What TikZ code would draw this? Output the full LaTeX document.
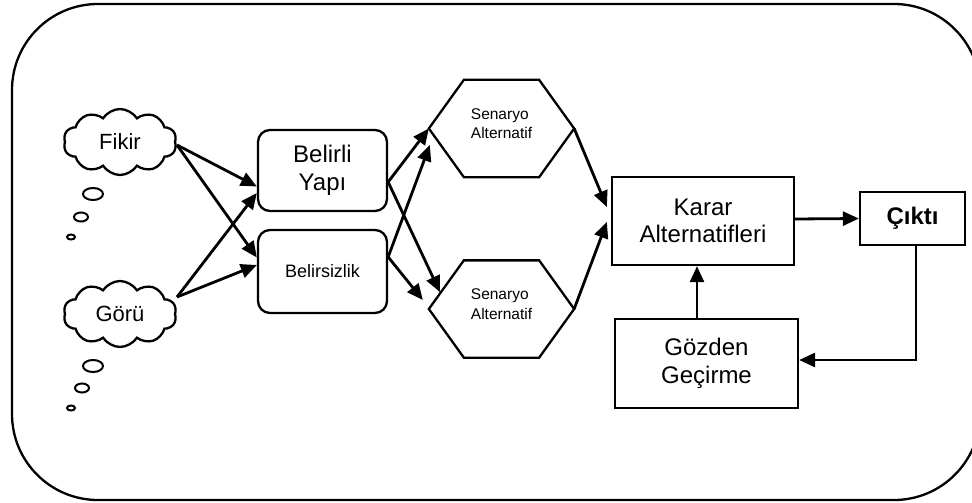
\documentclass[tikz,border=0pt]{standalone}
\usepackage{fontspec}
\setmainfont{Liberation Sans}
\usetikzlibrary{shapes.symbols,arrows.meta,calc}
\newcommand\hexout[1]{\draw (#1.west) -- ($(#1.north west)+(35,0)$) -- ($(#1.north east)+(-35,0)$) -- (#1.east) -- ($(#1.south east)+(-35,0)$) -- ($(#1.south west)+(35,0)$) -- cycle;}
\begin{document}
\begin{tikzpicture}[x=1pt,y=-1pt,
  line width=2.3pt,
  big/.style={font=\fontsize{24}{27.5}\selectfont, align=center},
  box/.style={draw, rectangle, big, inner sep=0},
  rbox/.style={box, rounded corners=12pt},
  hexnode/.style={rectangle, inner sep=0, minimum width=143pt, minimum height=95pt,
     label={[font=\fontsize{15.5}{19.5}\selectfont, align=left, yshift=5pt]center:Senaryo\\Alternatif}},
  thought/.style={draw, cloud, cloud puffs=10, cloud puff arc=115, aspect=1.7, inner sep=0,
     minimum width=113pt, minimum height=66pt, font=\fontsize{22}{24}\selectfont},
  bub/.style={line width=2pt},
  conn/.style={-{Triangle[length=16pt,width=14pt]}, line width=2.8pt}]
\useasboundingbox (0,0) rectangle (972,503);
\clip (0,0) rectangle (972,503);
% frame
\draw (12,4) [rounded corners=86pt] rectangle (980,500);
% thought clouds
\node[thought] (fikir) at (120,142) {Fikir};
\node[thought] (goru) at (120,314) {Görü};
\draw[bub] (93,194) ellipse [x radius=10pt, y radius=6pt];
\draw[bub] (81,217) ellipse [x radius=7pt, y radius=4.5pt];
\draw[bub] (71,237) ellipse [x radius=4pt, y radius=2.5pt];
\draw[bub] (93,366) ellipse [x radius=10pt, y radius=6pt];
\draw[bub] (82,388) ellipse [x radius=7pt, y radius=4.5pt];
\draw[bub] (71,408) ellipse [x radius=4pt, y radius=2.5pt];
% boxes
\node[rbox, minimum width=129pt, minimum height=81pt] (by) at (322.5,170.5) {Belirli\\Yapı};
\node[rbox, minimum width=129pt, minimum height=83pt, font=\fontsize{18}{20}\selectfont] (bs) at (322.5,271.5) {\raisebox{-6pt}{Belirsizlik}};
\node[hexnode] (hx1) at (501.5,128.5) {};
\node[hexnode] (hx2) at (501.5,309) {};
\hexout{hx1}
\hexout{hx2}
\node[box, minimum width=182pt, minimum height=88pt] (karar) at (703,221) {Karar\\Alternatifleri};
\node[box, minimum width=105pt, minimum height=53pt, font=\fontsize{24}{27}\selectfont\bfseries] (cikti) at (912.5,218.5) {Çıktı};
\node[box, minimum width=183pt, minimum height=89pt] (gozden) at (706.5,363.5) {Gözden\\Geçirme};
% connectors
\draw[conn] ($(fikir.center)+(57,3)$) -- ($(by.west)+(0,16)$);
\draw[conn] ($(fikir.center)+(57,3)$) -- ($(bs.west)+(0,-14)$);
\draw[conn] ($(goru.center)+(57,-17)$) -- ($(by.west)+(0,22.5)$);
\draw[conn] ($(goru.center)+(57,-17)$) -- ($(bs.west)+(0,-6.5)$);
\draw[conn] ($(by.east)+(0,11.5)$) -- (hx1.west);
\draw[conn] ($(by.east)+(0,11.5)$) -- ($(hx2.west)+(11,-17)$);
\draw[conn] ($(bs.east)+(0,-14.5)$) -- ($(hx1.west)+(1,16.5)$);
\draw[conn] ($(bs.east)+(0,-14.5)$) -- ($(hx2.west)+(-6,-9)$);
\draw[conn] (hx1.east) -- ($(karar.west)+(-4,-14)$);
\draw[conn] (hx2.east) -- ($(karar.west)+(-4,1)$);
\draw[conn] ($(karar.east)+(0,-2)$) -- (cikti.west);
\draw[conn] ($(gozden.north)+(-9.5,0)$) -- ($(karar.south)+(-6,0)$);
\draw[conn] ($(cikti.south)+(3.5,0)$) |- ($(gozden.east)+(0,-3.5)$);
\end{tikzpicture}
\end{document}
